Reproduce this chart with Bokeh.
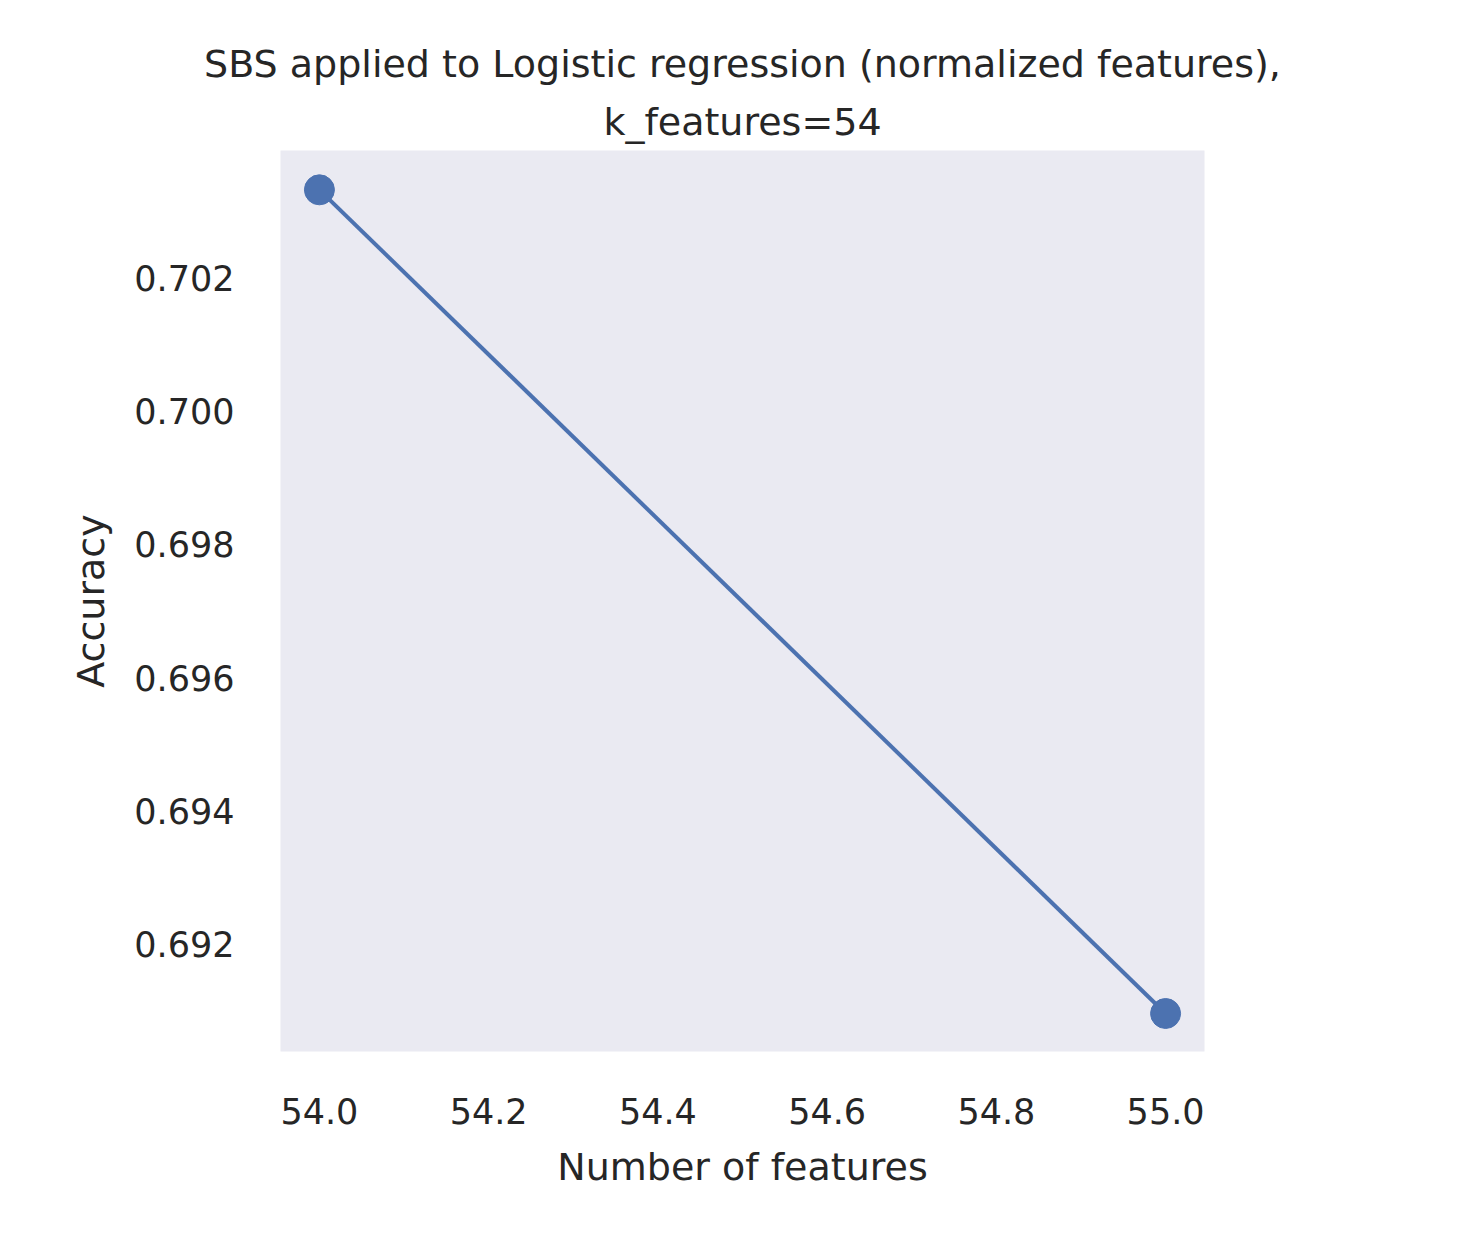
from bokeh.plotting import figure
from bokeh.models import FixedTicker, NumeralTickFormatter, Title, Range1d
from bokeh.embed import file_html
from bokeh.resources import INLINE

n_features = [54, 55]
accuracy = [0.70332, 0.69096]
y_ticks = [0.692, 0.694, 0.696, 0.698, 0.700, 0.702]
x_ticks = [54.0, 54.2, 54.4, 54.6, 54.8, 55.0]

FONT = "DejaVu Sans"
COL = "#4c72b0"

p = figure(frame_width=924, frame_height=901, output_backend="svg", toolbar_location=None,
           x_range=Range1d(53.954, 55.046), y_range=Range1d(0.69039, 0.70391),
           min_border_left=280, min_border_top=150, min_border_right=240, min_border_bottom=160,
           title=None)
p.background_fill_color = "#eaeaf2"
p.border_fill_color = "white"
p.outline_line_color = None
p.grid.grid_line_color = None

p.add_layout(Title(text="k_features=54", text_font=FONT, text_font_size="38px",
                   text_font_style="normal", text_color="#262626", align="center",
                   standoff=14), "above")
p.add_layout(Title(text="SBS applied to Logistic regression (normalized features),", text_font=FONT,
                   text_font_size="38px", text_font_style="normal", text_color="#262626",
                   align="center"), "above")

p.line(n_features, accuracy, color=COL, line_width=4)
p.scatter(n_features, accuracy, color=COL, size=30)

for ax in (p.xaxis[0], p.yaxis[0]):
    ax.axis_line_color = None
    ax.major_tick_line_color = None
    ax.minor_tick_line_color = None
    ax.major_label_text_font = FONT
    ax.major_label_text_font_size = "35px"
    ax.major_label_text_color = "#262626"
    ax.axis_label_text_font = FONT
    ax.axis_label_text_font_size = "38px"
    ax.axis_label_text_font_style = "normal"
    ax.axis_label_text_color = "#262626"
    ax.major_label_standoff = 40
    ax.axis_label_standoff = 18

p.xaxis.ticker = FixedTicker(ticks=x_ticks)
p.xaxis.formatter = NumeralTickFormatter(format="0.0")
p.xaxis.axis_label = "Number of features"
p.yaxis.ticker = FixedTicker(ticks=y_ticks)
p.yaxis.formatter = NumeralTickFormatter(format="0.000")
p.yaxis.axis_label = "Accuracy"

open("out.html", "w").write(file_html(p, INLINE))
